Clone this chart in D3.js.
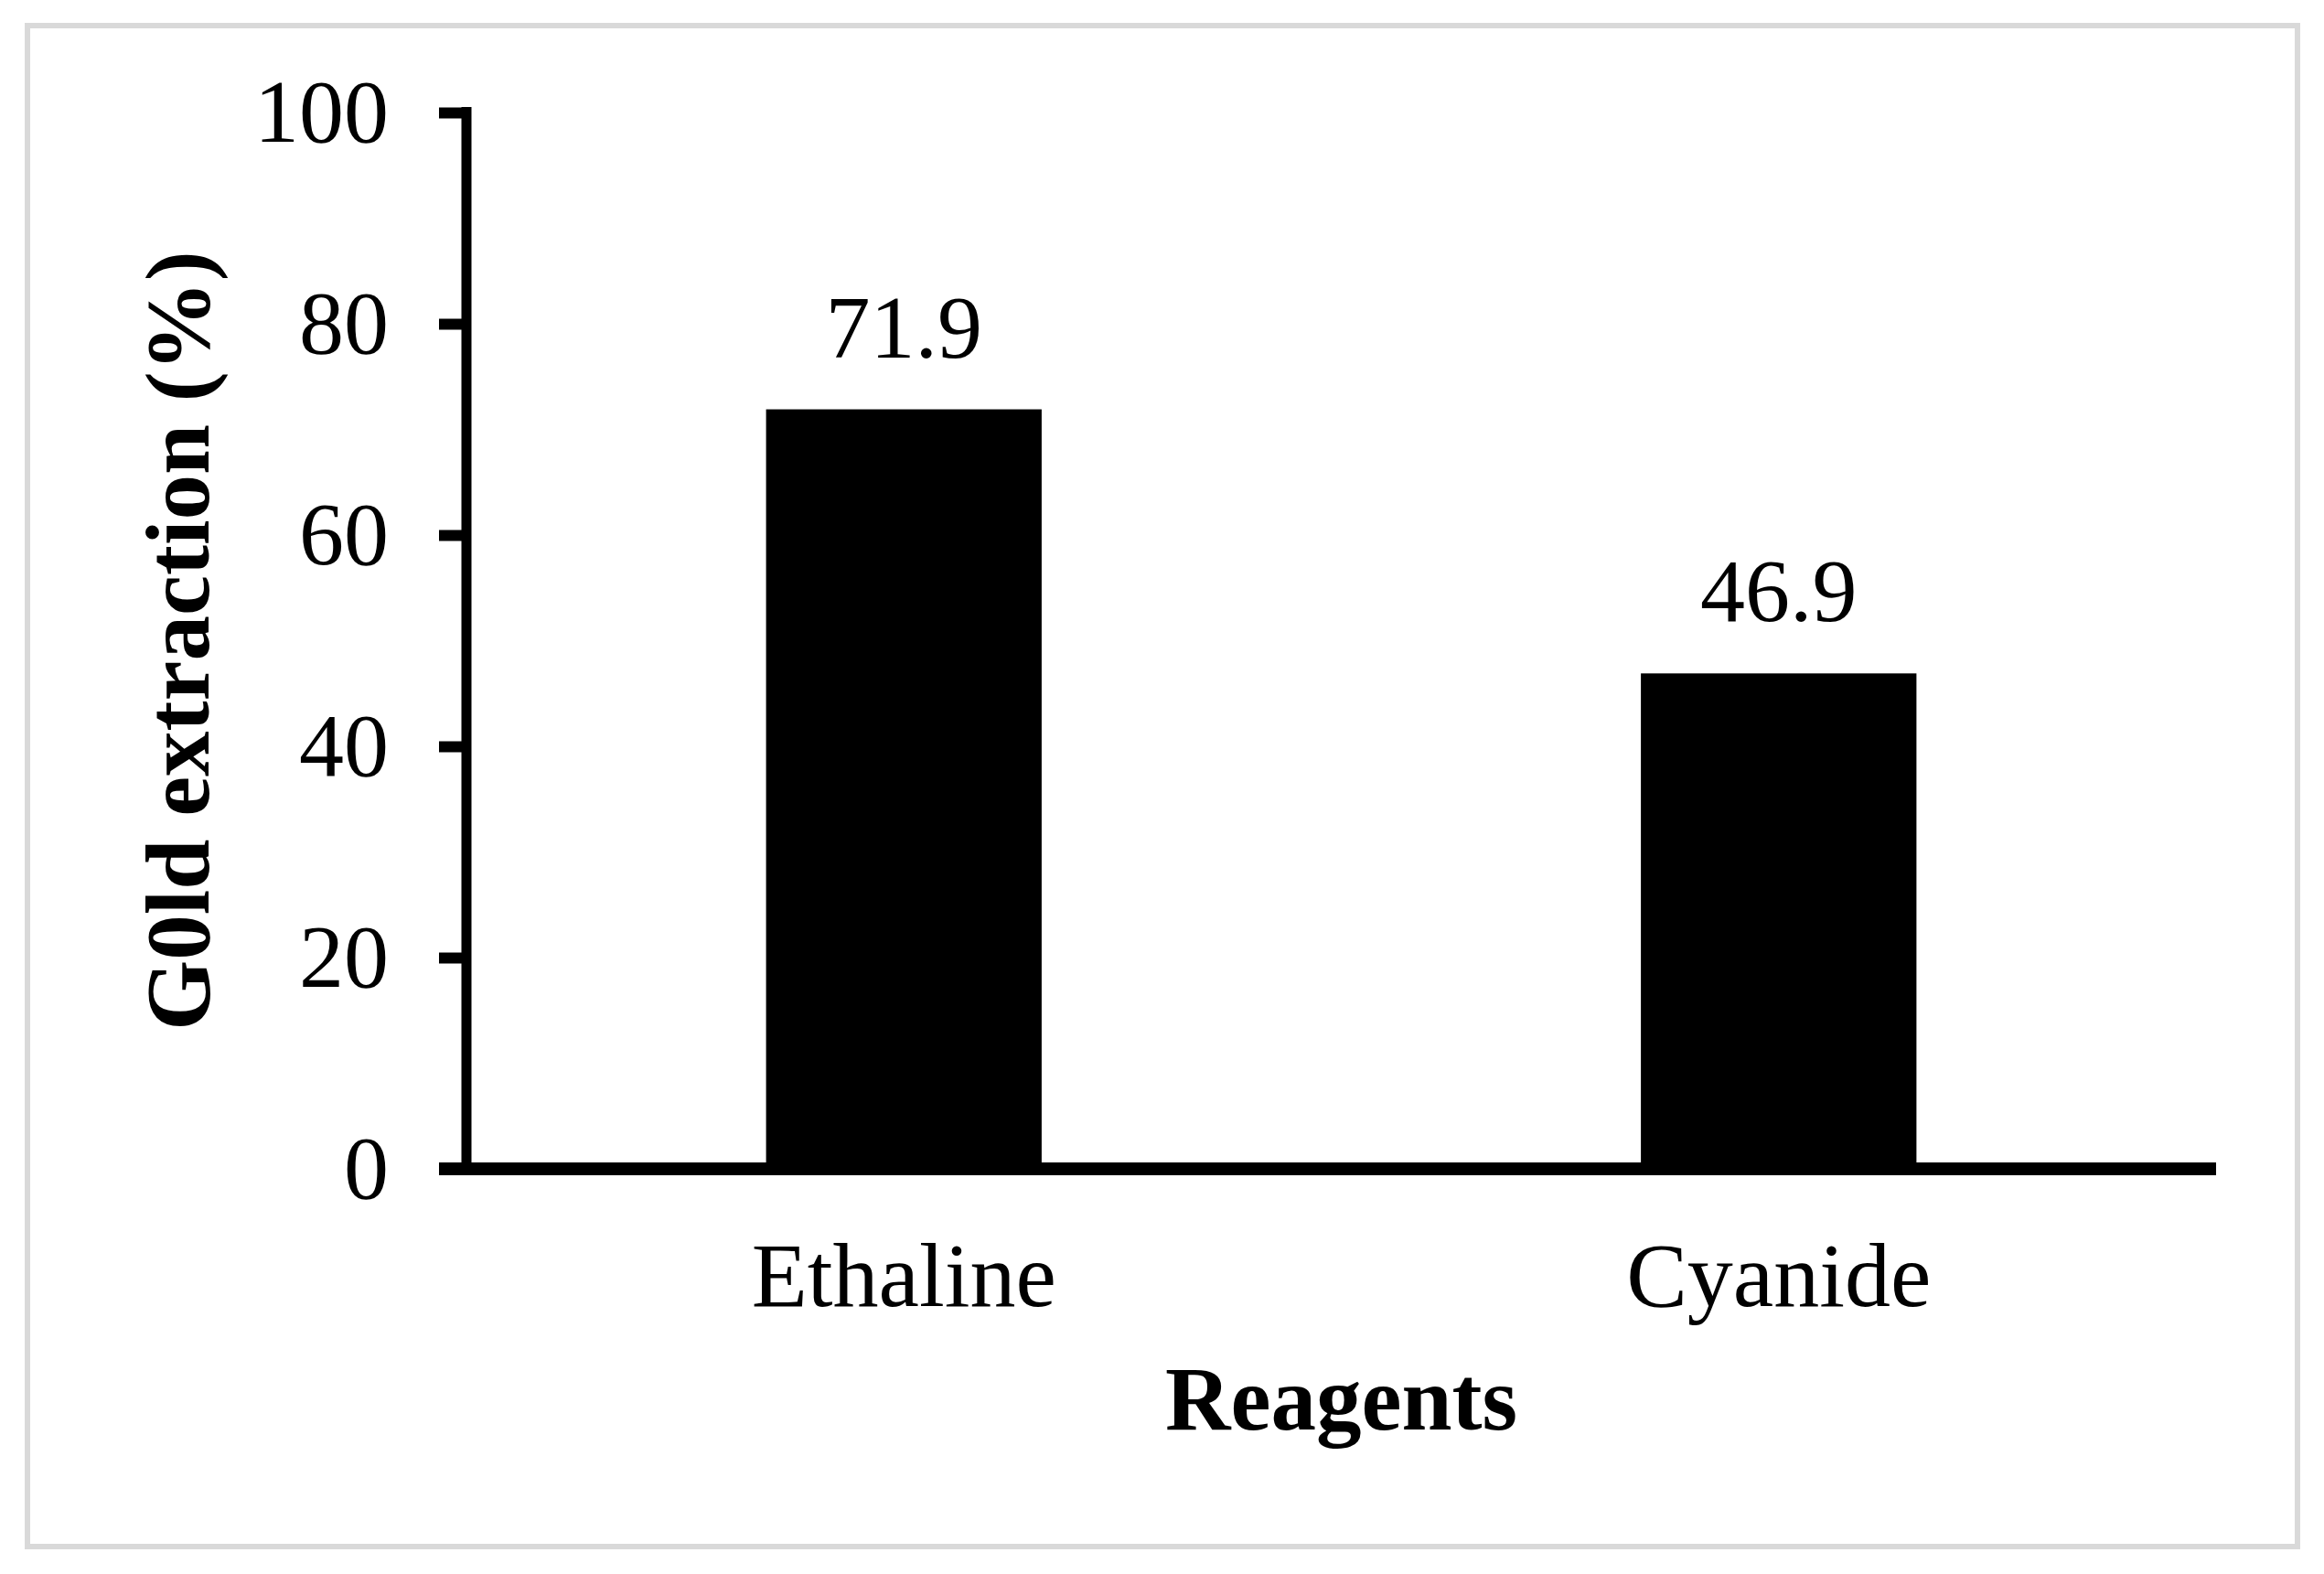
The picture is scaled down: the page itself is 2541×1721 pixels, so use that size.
<!DOCTYPE html>
<html>
<head>
<meta charset="utf-8">
<script src="https://cdn.jsdelivr.net/npm/d3@7"></script>
<style>
  html, body { margin: 0; padding: 0; background: #ffffff; }
  svg { display: block; }
  text { font-family: "Liberation Serif", "Times New Roman", serif; fill: #000; }
</style>
</head>
<body>
<svg id="chart" width="2541" height="1721"></svg>
<script>
const categories = ["Ethaline", "Cyanide"];
const values = [71.9, 46.9];
const valueLabels = ["71.9", "46.9"];
const yTicks = [0, 20, 40, 60, 80, 100];
const yTitle = "G0ld extraction (%)";
const xTitle = "Reagents";

const svg = d3.select("#chart");
const W = 2541, H = 1721;
svg.append("rect").attr("width", W).attr("height", H).attr("fill", "#ffffff");

// outer frame
svg.append("rect")
  .attr("x", 30).attr("y", 28).attr("width", 2482).attr("height", 1663)
  .attr("fill", "none").attr("stroke", "#d9d9d9").attr("stroke-width", 6);

const plotLeft = 510, plotRight = 2423, plotTop = 123, plotBottom = 1278;

const x = d3.scaleBand().domain(categories).range([plotLeft, plotRight]).padding(0);
const y = d3.scaleLinear().domain([0, 100]).range([plotBottom, plotTop]);
const barW = x.bandwidth() * 0.315;

// bars
svg.append("g").selectAll("rect").data(categories).join("rect")
  .attr("x", (d) => x(d) + x.bandwidth() / 2 - barW / 2)
  .attr("y", (d, i) => y(values[i]))
  .attr("width", barW)
  .attr("height", (d, i) => y(0) - y(values[i]))
  .attr("fill", "#000");

// value labels
svg.append("g").selectAll("text").data(categories).join("text")
  .attr("x", (d) => x(d) + x.bandwidth() / 2)
  .attr("y", (d, i) => y(values[i]) - 57)
  .attr("text-anchor", "middle")
  .attr("font-size", 98)
  .text((d, i) => valueLabels[i]);

// y axis
const yAxis = d3.axisLeft(y).tickValues(yTicks).tickSize(30).tickPadding(0).tickFormat(d3.format("d"));
const gy = svg.append("g").attr("transform", `translate(${plotLeft},0)`).call(yAxis);
gy.select(".domain").attr("stroke", "#000").attr("stroke-width", 11)
  .attr("d", `M0,${plotTop - 6}V${plotBottom}`);
gy.selectAll(".tick line").attr("stroke", "#000").attr("stroke-width", 12);
gy.selectAll(".tick text")
  .attr("x", -85)
  .attr("dy", 31)
  .attr("font-size", 98)
  .attr("font-family", "Liberation Serif")
  .attr("fill", "#000");

// x axis
const xAxis = d3.axisBottom(x).tickSize(0).tickPadding(0);
const gx = svg.append("g").attr("transform", `translate(0,${plotBottom})`).call(xAxis);
gx.select(".domain").attr("stroke", "#000").attr("stroke-width", 14)
  .attr("d", `M${plotLeft - 30},0H${plotRight}`);
gx.selectAll(".tick text")
  .attr("y", 150)
  .attr("dy", 0)
  .attr("font-size", 100)
  .attr("font-family", "Liberation Serif")
  .attr("fill", "#000");

// axis titles
svg.append("text")
  .attr("transform", `translate(228,${(plotTop + plotBottom) / 2}) rotate(-90)`)
  .attr("text-anchor", "middle")
  .attr("font-size", 99)
  .attr("font-weight", "bold")
  .text(yTitle);

svg.append("text")
  .attr("x", (plotLeft + plotRight) / 2)
  .attr("y", 1563)
  .attr("text-anchor", "middle")
  .attr("font-size", 99)
  .attr("font-weight", "bold")
  .text(xTitle);
</script>
</body>
</html>
